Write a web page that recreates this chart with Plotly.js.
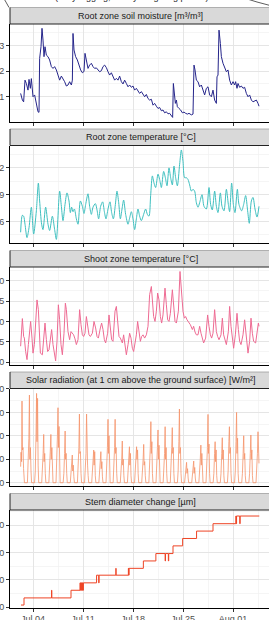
<!DOCTYPE html>
<html><head><meta charset="utf-8">
<script src="https://cdn.plot.ly/plotly-3.0.1.min.js"></script>
<style>html,body{margin:0;padding:0;overflow:hidden;width:269px;height:620px;background:#fff}
#chart{position:absolute;left:-40px;top:-20px;width:330px;height:680px}</style>
</head><body><div id="chart"></div><script>
// Times are July day numbers (fractional; 32 = Aug 01)
const panelTitles = ["Root zone soil moisture [m³/m³]", "Root zone temperature [°C]", "Shoot zone temperature [°C]", "Solar radiation (at 1 cm above the ground surface) [W/m²]", "Stem diameter change [µm]"];

const smDay = [2.27,2.51,2.69,2.88,3.07,3.30,3.44,3.63,3.77,3.91,4.00,4.23,4.37,4.56,4.70,4.84,4.93,5.12,5.26,5.40,5.54,5.68,5.87,6.10,6.33,6.57,6.80,7.03,7.27,7.50,7.73,7.97,8.20,8.43,8.67,8.90,9.13,9.37,9.51,9.60,9.74,9.97,10.21,10.44,10.67,10.91,11.14,11.28,11.47,11.70,11.93,12.17,12.40,12.63,12.87,13.10,13.33,13.57,13.80,14.03,14.27,14.50,14.73,14.97,15.20,15.43,15.67,15.90,16.13,16.37,16.60,16.83,17.07,17.30,17.53,17.77,18.00,18.23,18.47,18.70,18.93,19.17,19.40,19.63,19.87,20.10,20.33,20.57,20.80,21.03,21.27,21.50,21.73,21.97,22.20,22.43,22.67,22.90,23.13,23.37,23.55,23.65,23.79,23.93,24.07,24.21,24.44,24.67,24.91,25.14,25.37,25.61,25.84,26.17,26.40,26.54,26.68,26.87,27.10,27.33,27.57,27.80,28.03,28.27,28.50,28.73,28.97,29.20,29.43,29.67,29.76,29.90,30.04,30.23,30.37,30.60,30.83,31.07,31.30,31.53,31.77,32.00,32.23,32.37,32.56,32.70,32.93,33.17,33.40,33.63,33.87,34.10,34.33,34.57,34.80,35.03,35.27,35.50,35.64];
const smVal = [0.113,0.087,0.080,0.165,0.152,0.126,0.168,0.133,0.171,0.113,0.100,0.107,0.087,0.061,0.041,0.039,0.250,0.296,0.368,0.322,0.257,0.296,0.263,0.257,0.244,0.218,0.211,0.218,0.205,0.185,0.165,0.181,0.172,0.159,0.142,0.146,0.159,0.146,0.165,0.348,0.283,0.257,0.244,0.224,0.205,0.194,0.199,0.270,0.237,0.211,0.224,0.231,0.218,0.211,0.213,0.205,0.198,0.202,0.218,0.224,0.214,0.198,0.185,0.194,0.181,0.165,0.172,0.165,0.181,0.159,0.150,0.165,0.152,0.139,0.146,0.137,0.142,0.126,0.133,0.124,0.113,0.120,0.107,0.100,0.109,0.093,0.087,0.090,0.067,0.074,0.063,0.054,0.058,0.045,0.048,0.037,0.041,0.033,0.035,0.025,0.019,0.152,0.107,0.074,0.087,0.061,0.054,0.048,0.037,0.040,0.035,0.032,0.035,0.029,0.032,0.224,0.205,0.165,0.159,0.139,0.146,0.126,0.107,0.133,0.139,0.107,0.100,0.126,0.087,0.074,0.178,0.185,0.361,0.309,0.257,0.231,0.211,0.198,0.205,0.165,0.146,0.159,0.146,0.159,0.133,0.152,0.137,0.142,0.133,0.137,0.113,0.100,0.107,0.087,0.080,0.083,0.087,0.074,0.063];

const rtDay = [2.27,2.51,2.69,2.88,3.16,3.44,3.77,4.09,4.47,4.75,4.93,5.21,5.40,5.77,6.10,6.33,6.71,7.03,7.27,7.73,7.97,8.20,8.48,8.76,9.04,9.23,9.41,9.60,9.79,10.07,10.30,10.63,10.91,11.14,11.37,11.70,11.93,12.17,12.40,12.73,12.96,13.19,13.47,13.75,13.99,14.22,14.50,14.78,15.01,15.25,15.53,15.76,16.00,16.23,16.46,16.69,16.97,17.30,17.53,17.77,18.00,18.23,18.47,18.70,18.93,19.17,19.49,19.77,20.01,20.24,20.47,20.71,20.94,21.17,21.50,21.73,21.97,22.29,22.53,22.76,23.04,23.27,23.51,23.74,23.97,24.21,24.53,24.77,25.00,25.23,25.47,25.70,25.93,26.17,26.40,26.63,26.87,27.10,27.33,27.66,27.94,28.27,28.64,28.87,29.10,29.43,29.67,29.90,30.23,30.46,30.74,31.07,31.35,31.53,31.81,32.05,32.28,32.61,32.84,33.21,33.49,33.77,34.05,34.28,34.57,34.80,35.08,35.36,35.64];
const rtVal = [14.8,16.7,16.6,15.7,14.2,15.3,17.6,14.6,17.2,20.3,18.3,15.7,15.1,17.6,15.7,15.0,16.6,15.1,14.0,19.4,17.7,16.1,17.9,19.2,18.3,17.0,17.6,17.1,17.4,16.3,15.7,18.3,17.7,16.9,17.9,19.1,17.7,16.8,17.6,18.0,17.3,16.3,17.7,18.2,17.1,16.3,17.4,18.2,17.0,16.3,17.9,19.4,18.1,16.3,17.4,18.4,16.8,15.7,16.4,17.1,16.3,15.1,16.3,17.4,16.6,16.1,16.8,17.4,16.8,16.6,18.9,21.1,20.3,19.8,21.3,20.7,19.8,21.6,20.9,20.0,22.0,20.9,20.1,22.2,20.9,20.0,22.4,24.0,22.7,20.9,20.9,20.7,20.1,19.4,19.6,19.4,18.1,17.6,18.1,19.0,17.7,17.4,19.8,17.9,17.3,19.4,17.7,17.0,19.2,17.7,17.2,19.6,17.9,17.1,20.3,17.9,17.0,19.6,17.9,17.2,17.9,18.9,17.2,15.8,18.3,18.7,17.4,16.5,17.7];

const stDay = [2.27,2.51,2.69,2.79,2.97,3.16,3.35,3.53,3.67,3.86,4.00,4.19,4.37,4.56,4.75,4.89,5.03,5.31,5.49,5.68,5.87,6.05,6.24,6.43,6.61,6.80,6.99,7.17,7.36,7.55,7.73,7.92,8.11,8.34,8.53,8.67,8.90,9.13,9.32,9.51,9.69,9.88,10.07,10.30,10.53,10.72,10.91,11.09,11.28,11.47,11.65,11.84,12.03,12.31,12.54,12.77,12.96,13.15,13.43,13.61,13.80,13.99,14.17,14.45,14.64,14.83,15.01,15.20,15.48,15.67,15.85,16.04,16.23,16.51,16.69,16.88,17.07,17.30,17.53,17.72,17.91,18.09,18.28,18.47,18.65,18.84,19.03,19.21,19.40,19.63,19.87,20.10,20.33,20.57,20.71,20.89,21.08,21.27,21.45,21.64,21.83,22.01,22.20,22.48,22.67,22.85,23.04,23.23,23.51,23.69,23.88,24.07,24.35,24.58,24.81,25.00,25.19,25.37,25.56,25.75,26.03,26.31,26.49,26.68,26.87,27.10,27.33,27.52,27.71,27.89,28.17,28.45,28.64,28.83,29.01,29.20,29.43,29.67,29.85,30.04,30.32,30.51,30.69,30.88,31.07,31.35,31.53,31.72,31.91,32.09,32.33,32.56,32.75,32.93,33.12,33.40,33.63,33.87,34.10,34.33,34.52,34.71,34.89,35.17,35.36,35.55,35.64];
const stVal = [23.9,30.7,26.3,25.9,22.6,20.6,24.3,28.4,30.0,25.9,22.2,24.3,29.2,35.3,32.9,25.9,22.2,21.8,26.7,29.6,25.5,22.6,23.0,26.3,28.0,24.3,21.8,20.3,25.1,34.1,30.4,24.3,21.8,27.1,34.5,32.9,27.5,25.5,27.5,27.1,26.7,25.7,24.3,25.5,32.9,29.2,26.7,26.3,27.1,31.2,28.8,26.7,26.3,27.1,30.0,28.4,26.3,25.9,28.4,29.6,28.0,25.5,24.7,27.1,31.6,28.4,25.5,25.1,32.5,33.7,30.0,26.3,25.9,24.7,26.7,23.4,21.8,24.3,27.1,25.9,23.4,22.6,24.3,26.7,30.0,26.7,25.1,26.3,26.7,25.9,26.7,28.8,36.6,38.6,34.5,31.2,30.0,32.5,37.0,35.3,31.2,29.6,31.6,38.2,34.1,30.4,30.0,32.0,37.8,33.3,30.0,29.6,32.5,42.3,36.6,32.5,30.8,31.2,30.4,30.0,29.2,28.0,28.8,27.4,26.7,26.7,28.8,27.1,25.9,24.7,25.9,31.6,28.8,26.7,25.9,27.1,32.9,27.5,26.3,25.5,26.7,30.8,26.7,25.1,24.3,27.5,33.7,28.8,25.1,23.4,26.7,32.0,28.0,25.1,24.3,26.7,30.4,25.9,22.2,25.1,30.8,27.1,25.1,24.7,27.1,29.6,28.8];

const srDay = [2.27,2.33,2.40,2.46,2.53,2.60,2.68,2.80,
3.22,3.32,3.42,3.50,3.56,3.64,3.72,3.80,
4.22,4.32,4.42,4.50,4.56,4.64,4.72,4.80,
5.22,5.32,5.42,5.50,5.56,5.64,5.72,5.80,
6.22,6.32,6.42,6.50,6.56,6.64,6.72,6.80,
7.22,7.32,7.42,7.50,7.56,7.64,7.72,7.80,
8.22,8.32,8.42,8.50,8.56,8.64,8.72,8.80,
9.22,9.32,9.42,9.50,9.56,9.64,9.72,9.80,
10.22,10.32,10.42,10.50,10.56,10.64,10.72,10.80,
11.22,11.32,11.42,11.50,11.56,11.64,11.72,11.80,
12.22,12.32,12.42,12.50,12.56,12.64,12.72,12.80,
13.22,13.32,13.42,13.50,13.56,13.64,13.72,13.80,
14.22,14.32,14.42,14.50,14.56,14.64,14.72,14.80,
15.22,15.32,15.42,15.50,15.56,15.64,15.72,15.80,
16.22,16.32,16.42,16.50,16.56,16.64,16.72,16.80,
17.22,17.32,17.42,17.50,17.56,17.64,17.72,17.80,
18.22,18.32,18.42,18.50,18.56,18.64,18.72,18.80,
19.22,19.32,19.42,19.50,19.56,19.64,19.72,19.80,
20.22,20.32,20.42,20.50,20.56,20.64,20.72,20.80,
21.22,21.32,21.42,21.50,21.56,21.64,21.72,21.80,
22.22,22.32,22.42,22.50,22.56,22.64,22.72,22.80,
23.22,23.32,23.42,23.50,23.56,23.64,23.72,23.80,
24.22,24.32,24.42,24.50,24.56,24.64,24.72,24.80,
25.22,25.32,25.42,25.50,25.56,25.64,25.72,25.80,
26.22,26.32,26.42,26.50,26.56,26.64,26.72,26.80,
27.22,27.32,27.42,27.50,27.56,27.64,27.72,27.80,
28.22,28.32,28.42,28.50,28.56,28.64,28.72,28.80,
29.22,29.32,29.42,29.50,29.56,29.64,29.72,29.80,
30.22,30.32,30.42,30.50,30.56,30.64,30.72,30.80,
31.22,31.32,31.42,31.50,31.56,31.64,31.72,31.80,
32.22,32.32,32.42,32.50,32.56,32.64,32.72,32.80,
33.22,33.32,33.42,33.50,33.56,33.64,33.72,33.80,
34.22,34.32,34.42,34.50,34.56,34.64,34.72,34.80,
35.22,35.32,35.42,35.50,35.56,35.64];
const srVal = [137,260,180,697,279,300,120,0,
0,140,378,748,200,300,100,0,
0,100,400,762,350,720,150,0,
0,100,250,412,180,250,80,0,
0,100,270,412,200,300,80,0,
0,150,400,640,300,480,100,0,
0,80,250,441,200,250,80,0,
0,80,180,236,100,150,50,0,
0,100,300,586,250,265,80,0,
0,100,250,586,200,150,60,0,
0,80,180,279,150,265,60,0,
0,80,200,265,120,180,50,0,
0,100,300,541,250,400,100,0,
0,100,300,541,250,300,80,0,
0,80,200,356,150,200,60,0,
0,80,200,307,150,250,60,0,
0,100,250,307,200,280,80,0,
0,80,200,327,150,180,60,0,
0,100,300,521,250,350,80,0,
0,100,300,450,200,320,80,0,
0,100,250,478,200,300,80,0,
0,100,300,470,250,300,80,0,
0,100,350,629,250,300,80,0,
0,50,100,174,80,120,40,0,
0,50,100,185,80,130,40,0,
0,80,200,321,150,250,60,0,
0,100,300,583,250,330,80,0,
0,80,250,350,180,280,60,0,
0,80,250,384,200,280,60,0,
0,100,350,478,250,300,80,0,
0,100,350,600,250,380,80,0,
0,80,250,401,200,250,60,0,
0,80,250,407,200,280,60,0,
0,100,250,435,250,165];

const sdDay = [2.32,2.74,6.60,6.63,9.32,10.58,10.64,10.70,10.76,10.82,10.88,10.94,11.00,11.05,12.90,13.20,13.25,15.60,15.63,17.35,17.40,17.45,19.45,21.20,22.50,22.55,22.95,23.00,23.60,24.95,26.90,29.20,32.40,32.45,32.50,32.95,33.00,35.68];
const sdVal = [8,34,62,34,62,89,62,89,62,89,62,89,62,89,117,89,117,142,117,142,117,142,169,196,169,196,169,196,224,251,278,305,333,305,333,305,333,333];

const base = Date.UTC(2021, 6, 1);
function toDate(d){ return new Date(base + (d - 1) * 864e5).toISOString().slice(0,19).replace('T',' '); }
const dates = arr => arr.map(toDate);

// layout geometry (viewport px)
const H = 608, LX = 10, PW = 261;
const px = x => (x - LX) / PW;
const py = y => 1 - y / H;
const panels = [[24,121.5],[145.5,243],[267,364.5],[388.5,486],[510,607.5]];
const strips = [[7.5,24],[129,145.5],[250.5,267],[372,388.5],[493.5,510]];
const yRanges = [[0.003,0.385],[13.6,24.5],[19.4,43.4],[-28,804],[-1,355]];
const yDticks = [0.1,3,5,200,100];
const yTick0 = [0,16,20,0,0];
const colors = ['#25258A','#3FBFBF','#EE6B93','#F5936A','#EE4425'];

const font = 'Liberation Sans, Arial, sans-serif';
const xs = [smDay, rtDay, stDay, srDay, sdDay];
const ys = [smVal, rtVal, stVal, srVal, sdVal];
const traces = xs.map((x, i) => ({
  type: 'scatter', mode: 'lines', x: dates(x), y: ys[i],
  xaxis: 'x' + (i ? i + 1 : ''), yaxis: 'y' + (i ? i + 1 : ''),
  line: {color: colors[i], width: i === 3 ? 0.8 : 1,
         shape: i === 4 ? 'hv' : (i === 1 ? 'spline' : 'linear'), smoothing: 0.8},
  hoverinfo: 'skip', showlegend: false
}));

const layout = {
  width: 330, height: 680,
  margin: {l: 50, r: 19, t: 20, b: 52},
  paper_bgcolor: '#fff', plot_bgcolor: '#fff',
  font: {family: font, size: 9, color: '#4D4D4D'},
  shapes: [], annotations: []
};
for (let i = 0; i < 5; i++) {
  const s = i ? String(i + 1) : '';
  const [t, b] = panels[i];
  layout['xaxis' + s] = {
    type: 'date', anchor: 'y' + s, domain: [0, 1],
    range: [toDate(0.78), toDate(37.32)],
    tick0: '2021-07-04', dtick: 7 * 864e5, tickformat: '%b %d',
    showticklabels: i === 4, ticks: 'outside', ticklen: 3, tickcolor: '#333', tickwidth: 1,
    showline: true, linecolor: '#000', linewidth: 1,
    showgrid: true, gridcolor: '#E5E5E5', gridwidth: 1, zeroline: false,
    minor: {tick0: '2021-07-04', dtick: 3.5 * 864e5, showgrid: true, gridcolor: '#F1F1F1', gridwidth: 0.7},
    tickfont: {family: font, size: 9, color: '#4D4D4D'},
    fixedrange: true
  };
  if (i) layout['xaxis' + s].matches = 'x';
  layout['yaxis' + s] = {
    anchor: 'x' + s, domain: [py(b), py(t)], range: yRanges[i],
    tick0: yTick0[i], dtick: yDticks[i],
    ticks: 'outside', ticklen: 3, tickcolor: '#333', tickwidth: 1,
    showline: true, linecolor: '#000', linewidth: 1,
    showgrid: true, gridcolor: '#E5E5E5', gridwidth: 1, zeroline: false,
    minor: {dtick: yDticks[i] / 2, tick0: yTick0[i], showgrid: true, gridcolor: '#F1F1F1', gridwidth: 0.7},
    tickfont: {family: font, size: 9, color: '#4D4D4D'},
    fixedrange: true
  };
  const [st, sb] = strips[i];
  layout.shapes.push({type: 'rect', xref: 'paper', yref: 'paper', x0: 0, x1: 1.2, y0: py(sb), y1: py(st),
    fillcolor: '#D9D9D9', line: {width: 0}, layer: 'below'});
  layout.shapes.push({type: 'line', xref: 'paper', yref: 'paper', x0: 0, x1: 1.2, y0: py(st), y1: py(st),
    line: {color: '#A0A0A0', width: 0.8}});
  layout.shapes.push({type: 'line', xref: 'paper', yref: 'paper', x0: 0, x1: 1.2, y0: py(sb), y1: py(sb),
    line: {color: '#222', width: 1}});
  layout.shapes.push({type: 'line', xref: 'paper', yref: 'paper', x0: 0, x1: 0, y0: py(sb), y1: py(st),
    line: {color: '#222', width: 1}});
  layout.annotations.push({xref: 'paper', yref: 'paper', x: 0.5, y: py((st + sb) / 2),
    xanchor: 'center', yanchor: 'middle', showarrow: false, text: panelTitles[i],
    font: {family: font, size: 9, color: '#1A1A1A'}});
}
// partially visible header above the first panel
layout.shapes.push({type: 'path', xref: 'paper', yref: 'paper',
  path: `M ${px(3)} ${py(-3)} Q ${px(6)} ${py(2)} ${px(9)} ${py(7.5)}`, line: {color: '#333', width: 0.8}});
layout.shapes.push({type: 'path', xref: 'paper', yref: 'paper',
  path: `M ${px(244)} ${py(-2)} Q ${px(256)} ${py(2)} ${px(272)} ${py(6)}`, line: {color: '#333', width: 0.8}});
layout.annotations.push({xref: 'paper', yref: 'paper', x: px(132), y: py(3.6), xanchor: 'center', yanchor: 'bottom',
  showarrow: false, text: '(daily logging, hourly weighting period)', font: {family: font, size: 9, color: '#1A1A1A'}});

Plotly.newPlot('chart', traces, layout, {staticPlot: true, displayModeBar: false});
</script></body></html>
